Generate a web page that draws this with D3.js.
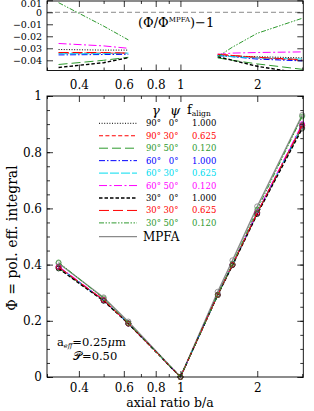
<!DOCTYPE html>
<html>
<head>
<meta charset="utf-8">
<script src="https://cdn.jsdelivr.net/npm/d3@7/dist/d3.min.js"></script>
<style>
	body { margin: 0; background: #fff; }
	svg { display: block; font-family: "DejaVu Serif", serif; }
</style>
</head>
<body>
<div id="container"></div>
<script>
const width = 314;
const height = 411;

// axial ratio b/a of the computed shapes
const bxa = [0.333, 0.5, 0.625, 1, 1.4, 1.6, 2, 3];

// Phi, main panel
const phi_mpfa  = [0.405, 0.283, 0.197, 0, 0.303, 0.415, 0.607, 0.932];
const phi_90_0  = [0.392, 0.274, 0.191, 0, 0.292, 0.400, 0.585, 0.897];
const phi_90_30 = [0.391, 0.273, 0.190, 0, 0.292, 0.400, 0.584, 0.895];
const phi_90_50 = [0.387, 0.272, 0.190, 0, 0.291, 0.398, 0.581, 0.888];
const phi_60_0  = [0.391, 0.273, 0.190, 0, 0.292, 0.400, 0.583, 0.894];
const phi_60_30 = [0.391, 0.273, 0.190, 0, 0.292, 0.400, 0.584, 0.896];
const phi_60_50 = [0.394, 0.275, 0.191, 0, 0.292, 0.401, 0.587, 0.901];
const phi_30_0  = [0.386, 0.271, 0.190, 0, 0.292, 0.398, 0.580, 0.884];
const phi_30_30 = [0.391, 0.274, 0.190, 0, 0.292, 0.400, 0.584, 0.895];
const phi_30_50 = [0.408, 0.280, 0.192, 0, 0.292, 0.403, 0.596, 0.927];

// (Phi / Phi_MPFA) - 1, top panel (undefined at b/a = 1)
const rat_90_0  = [-0.031, -0.0315, -0.0315, null, -0.036, -0.0365, -0.037, -0.038];
const rat_90_30 = [-0.034, -0.034, -0.034, null, -0.035, -0.036, -0.038, -0.040];
const rat_90_50 = [-0.0435, -0.040, -0.0375, null, -0.038, -0.040, -0.043, -0.0475];
const rat_60_0  = [-0.0355, -0.0352, -0.035, null, -0.036, -0.037, -0.039, -0.0405];
const rat_60_30 = [-0.0345, -0.0345, -0.034, null, -0.036, -0.037, -0.038, -0.039];
const rat_60_50 = [-0.026, -0.028, -0.030, null, -0.035, -0.034, -0.0335, -0.033];
const rat_30_0  = [-0.046, -0.042, -0.0378, null, -0.037, -0.040, -0.045, -0.051];
const rat_30_30 = [-0.0335, -0.0335, -0.034, null, -0.035, -0.036, -0.0375, -0.0395];
const rat_30_50 = [0.008, -0.0115, -0.023, null, -0.037, -0.029, -0.0175, -0.005];

// legend labels
const gammaLabels = ["90°", "90°", "90°", "60°", "60°", "60°", "30°", "30°", "30°"];
const psiLabels = ["0°", "30°", "50°", "0°", "30°", "50°", "0°", "30°", "50°"];
const falignLabels = ["1.000", "0.625", "0.120", "1.000", "0.625", "0.120", "1.000", "0.625", "0.120"];

// ticks
const xMajor = [0.4, 0.6, 0.8, 1, 2];
const xMinor = [0.3, 0.5, 0.7, 0.9, 3];
const yMainMajor = [0, 0.2, 0.4, 0.6, 0.8, 1];
const yMainMinor = d3.range(0, 1.001, 0.05);
const yTopMajor = [-0.04, -0.03, -0.02, -0.01, 0, 0.01];

// styles
const colors = ["#000", "#ff0000", "#2e9a2e", "#0000ff", "#00dcef", "#ff00ff", "#000", "#ff0000", "#2e9a2e"];
const dashes = ["1,1.6", "4,2.4", "9,4", "6,2,1.5,2", "9,2", "8,2.5,2,2.5", "3.5,2", "10,4", "5,1.5,1.5,1.5,1.5,1.5"];
const widths = [1, 1, 1, 1, 1, 1, 1.4, 1, 1];
const mpfaColor = "#8a8a8a";

const phiSets = [phi_90_0, phi_90_30, phi_90_50, phi_60_0, phi_60_30, phi_60_50, phi_30_0, phi_30_30, phi_30_50];
const ratSets = [rat_90_0, rat_90_30, rat_90_50, rat_60_0, rat_60_30, rat_60_50, rat_30_0, rat_30_30, rat_30_50];

let series = phiSets.map((p, i) => ({
	phi: p, rat: ratSets[i], color: colors[i], dash: dashes[i], lw: widths[i],
	gamma: gammaLabels[i], psi: psiLabels[i], falign: falignLabels[i]
}));

// scales
const x = d3.scaleLog().domain([0.3, 3.03]).range([47, 303.3]);
const yMain = d3.scaleLinear().domain([0, 1]).range([377, 96]);
const yTop = d3.scaleLinear().domain([-0.0485, 0.0094]).range([70.5, 1]);

let svg = d3.select("#container")
	.append("svg")
	.attr("width", width)
	.attr("height", height);

svg.append("defs").append("clipPath").attr("id", "clipTop")
	.append("rect")
	.attr("x", x.range()[0]).attr("y", yTop.range()[1])
	.attr("width", x.range()[1] - x.range()[0])
	.attr("height", yTop.range()[0] - yTop.range()[1]);

// inward ticks on all four sides of a panel
function drawFrame(y, yMaj, yMin, yFmt, xLabels, yFont, xPad) {
	let g = svg.append("g");
	let [x0, x1] = x.range();
	let [yb, yt] = y.range();
	const put = (axis, tx, ty, fs) => {
		let a = g.append("g").attr("transform", "translate(" + tx + "," + ty + ")").call(axis);
		a.select(".domain").remove();
		a.selectAll("line").attr("stroke", "#000").attr("stroke-width", 0.8);
		a.selectAll("text").attr("font-family", "DejaVu Serif").attr("font-size", fs).attr("fill", "#000");
		return a;
	};
	const fx = d => d3.format("")(d);
	put(d3.axisBottom(x).tickValues(xMajor).tickFormat(xLabels ? fx : "").tickSizeInner(-6).tickSizeOuter(0).tickPadding(xPad), 0, yb, 12);
	put(d3.axisBottom(x).tickValues(xMinor).tickFormat("").tickSizeInner(-3).tickSizeOuter(0), 0, yb, 12);
	put(d3.axisTop(x).tickValues(xMajor).tickFormat("").tickSizeInner(-6).tickSizeOuter(0), 0, yt, 12);
	put(d3.axisTop(x).tickValues(xMinor).tickFormat("").tickSizeInner(-3).tickSizeOuter(0), 0, yt, 12);
	put(d3.axisLeft(y).tickValues(yMaj).tickFormat(yFmt).tickSizeInner(-6).tickSizeOuter(0).tickPadding(5), x0, 0, yFont);
	put(d3.axisRight(y).tickValues(yMaj).tickFormat("").tickSizeInner(-6).tickSizeOuter(0), x1, 0, yFont);
	if (yMin) {
		put(d3.axisLeft(y).tickValues(yMin).tickFormat("").tickSizeInner(-3).tickSizeOuter(0), x0, 0, yFont);
		put(d3.axisRight(y).tickValues(yMin).tickFormat("").tickSizeInner(-3).tickSizeOuter(0), x1, 0, yFont);
	}
	g.append("rect")
		.attr("x", x0).attr("y", yt)
		.attr("width", x1 - x0).attr("height", yb - yt)
		.attr("fill", "none").attr("stroke", "#000").attr("stroke-width", 0.9);
	return g;
}

// ---------- top panel: ratio ----------
let topPanel = svg.append("g");
topPanel.append("line")
	.attr("x1", x.range()[0]).attr("x2", x.range()[1])
	.attr("y1", yTop(0)).attr("y2", yTop(0))
	.attr("stroke", mpfaColor).attr("stroke-width", 1).attr("stroke-dasharray", "5,3");

let lineTop = d3.line()
	.defined(d => d[1] !== null)
	.x(d => x(d[0]))
	.y(d => yTop(d[1]));

topPanel.append("g").attr("clip-path", "url(#clipTop)")
	.selectAll("path")
	.data(series)
	.enter()
	.append("path")
	.attr("d", s => lineTop(bxa.map((b, i) => [b, s.rat[i]])))
	.attr("fill", "none")
	.attr("stroke", s => s.color)
	.attr("stroke-width", s => s.lw)
	.attr("stroke-dasharray", s => s.dash);

let fTop = d => d === 0 ? "0" : d3.format(".2f")(d);
let topFrame = drawFrame(yTop, yTopMajor, null, fTop, true, 9.5, 10);
// keep the 0.01 label inside the page
topFrame.selectAll("text").filter(d => d === 0.01).attr("y", 3.3);

let ann = topPanel.append("text").attr("x", 138).attr("y", 27).attr("font-size", 13);
ann.append("tspan").text("(Φ/Φ");
ann.append("tspan").attr("font-size", 7).attr("dy", -5).text("MPFA");
ann.append("tspan").attr("dy", 5).text(")−1");

// ---------- main panel ----------
let main = svg.append("g");
let lineMain = d3.line().x(d => x(d[0])).y(d => yMain(d[1]));

main.append("path")
	.attr("d", lineMain(bxa.map((b, i) => [b, phi_mpfa[i]])))
	.attr("fill", "none").attr("stroke", mpfaColor).attr("stroke-width", 1.4);
main.selectAll("circle.mpfa")
	.data(bxa.map((b, i) => [b, phi_mpfa[i]]))
	.enter().append("circle")
	.attr("class", "mpfa")
	.attr("cx", d => x(d[0])).attr("cy", d => yMain(d[1])).attr("r", 2.6)
	.attr("fill", "none").attr("stroke", mpfaColor).attr("stroke-width", 0.9);

let sg = main.selectAll("g.series")
	.data(series)
	.enter()
	.append("g")
	.attr("class", "series");
sg.append("path")
	.attr("d", s => lineMain(bxa.map((b, i) => [b, s.phi[i]])))
	.attr("fill", "none")
	.attr("stroke", s => s.color)
	.attr("stroke-width", s => s.lw)
	.attr("stroke-dasharray", s => s.dash);
sg.selectAll("circle")
	.data(s => bxa.map((b, i) => ({ b: b, v: s.phi[i], c: s.color })))
	.enter().append("circle")
	.attr("cx", d => x(d.b)).attr("cy", d => yMain(d.v)).attr("r", 2.4)
	.attr("fill", "none").attr("stroke", d => d.c).attr("stroke-width", 0.7);

drawFrame(yMain, yMainMajor, yMainMinor, d => d3.format("")(d), true, 12, 6.5);

// axis titles
svg.append("text")
	.attr("x", 170).attr("y", 407)
	.attr("text-anchor", "middle").attr("font-size", 12.5)
	.text("axial ratio b/a");
svg.append("text")
	.attr("transform", "translate(12,238)rotate(-90)")
	.attr("text-anchor", "middle").attr("dy", "0.35em").attr("font-size", 14)
	.text("Φ = pol. eff. integral");

// size / porosity note
let aeff = svg.append("text").attr("x", 57).attr("y", 346).attr("font-size", 11.5);
aeff.append("tspan").text("a");
aeff.append("tspan").attr("font-size", 6.5).attr("font-style", "italic").attr("dy", 2).text("eff");
aeff.append("tspan").attr("dy", -2).text("=0.25");
aeff.append("tspan").attr("font-style", "italic").text("μ");
aeff.append("tspan").text("m");
svg.append("text").attr("x", 73).attr("y", 359.5).attr("font-size", 11.5).text("𝒫=0.50");

// ---------- legend ----------
let rowY = d3.scaleLinear().domain([0, 1]).range([123.3, 135.75]);
let leg = svg.append("g").attr("font-size", 8.5);
let head = leg.append("g").attr("font-size", 13);
head.append("text").attr("x", 156).attr("y", 115).attr("text-anchor", "middle").attr("font-style", "italic").text("γ");
head.append("text").attr("x", 175).attr("y", 115).attr("text-anchor", "middle").attr("font-style", "italic").text("ψ");
let fh = head.append("text").attr("x", 187).attr("y", 113.5);
fh.append("tspan").text("f");
fh.append("tspan").attr("font-size", 7.5).attr("dy", 2.5).text("align");

let rows = leg.selectAll("g.row")
	.data(series)
	.enter()
	.append("g")
	.attr("class", "row")
	.attr("transform", (s, i) => "translate(0," + rowY(i) + ")");
rows.append("line")
	.attr("x1", 99).attr("x2", 137)
	.attr("stroke", s => s.color)
	.attr("stroke-width", s => s.lw)
	.attr("stroke-dasharray", s => s.dash);
rows.append("text").attr("x", 161).attr("dy", "0.35em").attr("text-anchor", "end")
	.attr("fill", s => s.color).text(s => s.gamma);
rows.append("text").attr("x", 178.5).attr("dy", "0.35em").attr("text-anchor", "end")
	.attr("fill", s => s.color).text(s => s.psi);
rows.append("text").attr("x", 192).attr("dy", "0.35em")
	.attr("fill", s => s.color).text(s => s.falign);

let mrow = leg.append("g").attr("transform", "translate(0," + (rowY(9) + 1.3) + ")");
mrow.append("line").attr("x1", 99).attr("x2", 137)
	.attr("stroke", mpfaColor).attr("stroke-width", 1.4);
mrow.append("text").attr("x", 143).attr("dy", "0.35em").attr("font-size", 12).text("MPFA");
</script>
</body>
</html>
